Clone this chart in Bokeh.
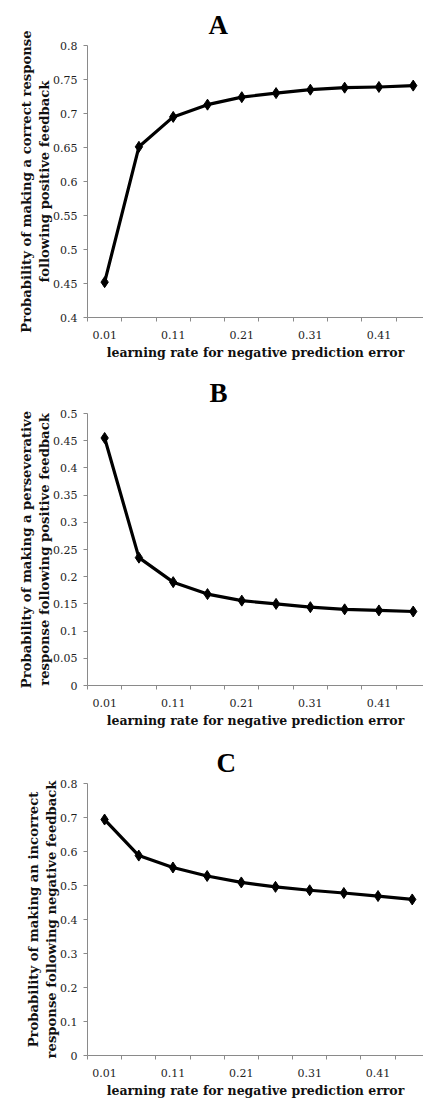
from bokeh.plotting import figure
from bokeh.layouts import column
from bokeh.models import FixedTicker, CustomJSTickFormatter, PrintfTickFormatter, Range1d
from bokeh.embed import file_html
from bokeh.resources import INLINE

# ---- data ----
rates = [0.01, 0.06, 0.11, 0.16, 0.21, 0.26, 0.31, 0.36, 0.41, 0.46]
x_tick_labels = [0.01, 0.11, 0.21, 0.31, 0.41]

prob_correct_after_pos = [0.452, 0.651, 0.695, 0.713, 0.724, 0.730, 0.735, 0.738, 0.739, 0.741]
prob_persev_after_pos = [0.455, 0.235, 0.190, 0.168, 0.156, 0.150, 0.144, 0.140, 0.138, 0.136]
prob_incorrect_after_neg = [0.694, 0.588, 0.553, 0.528, 0.509, 0.496, 0.486, 0.478, 0.469, 0.459]

yticks_A = [0.4, 0.45, 0.5, 0.55, 0.6, 0.65, 0.7, 0.75, 0.8]
yticks_B = [0, 0.05, 0.1, 0.15, 0.2, 0.25, 0.3, 0.35, 0.4, 0.45, 0.5]
yticks_C = [0, 0.1, 0.2, 0.3, 0.4, 0.5, 0.6, 0.7, 0.8]

titles = ["A", "B", "C"]
xlabel = "learning rate for negative prediction error"
ylabels = [
    "Probability of making a correct response\nfollowing positive feedback",
    "Probability of making a perseverative\nresponse following positive feedback",
    "Probability of making an incorrect\nresponse following negative feedback",
]

SERIF = "DejaVu Serif"
step = rates[1] - rates[0]


def panel(letter, ys, yticks, ylab, height, top, bottom, left, cats_visible, title_offset):
    x0 = rates[0] - step / 2
    p = figure(width=423, height=height, output_backend="svg", toolbar_location=None,
               x_range=Range1d(x0, x0 + cats_visible * step),
               y_range=Range1d(yticks[0], yticks[-1]),
               min_border_top=top, min_border_bottom=bottom,
               min_border_left=left, min_border_right=0)
    p.outline_line_color = None
    p.grid.visible = False
    p.background_fill_color = "white"
    p.border_fill_color = "white"

    p.title.text = letter
    p.title.align = "left"
    p.title.offset = title_offset
    p.title.text_font = "Liberation Serif"
    p.title.text_font_style = "bold"
    p.title.text_font_size = "27px"
    p.title.text_color = "black"
    p.title.standoff = 12

    # x axis: labels at category centers, tick marks at category boundaries
    bounds = [r - step / 2 for r in rates]
    p.xaxis.ticker = FixedTicker(ticks=x_tick_labels, minor_ticks=bounds)
    p.xaxis.formatter = PrintfTickFormatter(format="%.2f")
    p.xaxis.major_tick_out = 0
    p.xaxis.major_tick_in = 0
    p.xaxis.minor_tick_out = 4
    p.xaxis.minor_tick_in = 0
    p.xaxis.major_label_standoff = 9

    p.yaxis.ticker = FixedTicker(ticks=yticks)
    p.yaxis.formatter = CustomJSTickFormatter(code="return String(+tick.toFixed(2))")
    p.yaxis.major_tick_out = 4
    p.yaxis.major_tick_in = 0
    p.yaxis.minor_tick_out = 0
    p.yaxis.minor_tick_in = 0
    p.yaxis.major_label_standoff = 6

    for ax in (p.xaxis, p.yaxis):
        ax.axis_line_color = "#8a8a8a"
        ax.major_tick_line_color = "#8a8a8a"
        ax.minor_tick_line_color = "#8a8a8a"
        ax.major_label_text_font = SERIF
        ax.major_label_text_font_size = "11px"
        ax.major_label_text_color = "#1e1e1e"
        ax.axis_label_text_font = SERIF
        ax.axis_label_text_font_style = "bold"
        ax.axis_label_text_font_size = "12.5px"
        ax.axis_label_text_color = "#111111"

    p.xaxis.axis_label = xlabel
    p.xaxis.axis_label_standoff = 3
    p.yaxis.axis_label = ylab
    p.yaxis.axis_label_standoff = -2
    p.yaxis.axis_label_text_font_size = "13.2px"

    p.line(rates, ys, line_color="black", line_width=3.2, line_join="round")
    p.scatter(rates, ys, marker="diamond", size=11, color="black")
    return p


pA = panel(titles[0], prob_correct_after_pos, yticks_A, ylabels[0], 365, 45, 48, 87, 9.8, 121)
pB = panel(titles[1], prob_persev_after_pos, yticks_B, ylabels[1], 365, 48, 45, 87, 9.8, 122)
pC = panel(titles[2], prob_incorrect_after_neg, yticks_C, ylabels[2], 370, 53, 43, 79, 9.83, 129)

layout = column(pA, pB, pC, spacing=0)
open("out.html", "w").write(file_html(layout, INLINE))
